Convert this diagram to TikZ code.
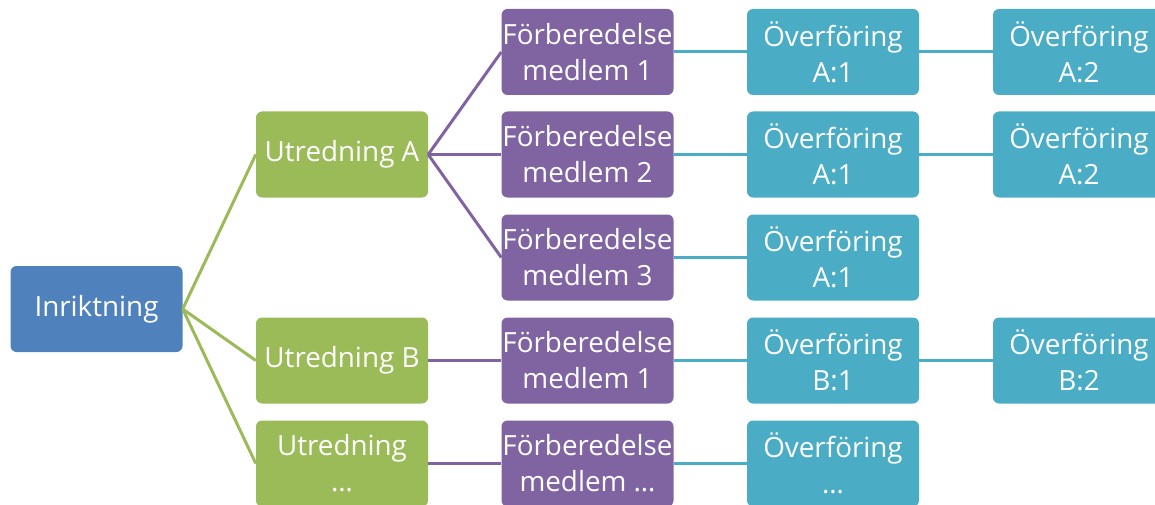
\documentclass[tikz,border=0pt]{standalone}
\usepackage{fontspec}
\setmainfont{Open Sans}
\definecolor{cblue}{HTML}{4F81BD}
\definecolor{cgreen}{HTML}{9BBB59}
\definecolor{cpurple}{HTML}{8064A2}
\definecolor{cteal}{HTML}{4BACC6}
\tikzset{
  box/.style={rounded corners=6pt, minimum width=172pt, minimum height=86pt, inner sep=0pt,
    text=white, align=center, font=\fontsize{27.8}{36}\selectfont},
  bluebox/.style={box, fill=cblue},
  greenbox/.style={box, fill=cgreen},
  purplebox/.style={box, fill=cpurple},
  tealbox/.style={box, fill=cteal},
  gline/.style={draw=cgreen, line width=3pt},
  pline/.style={draw=cpurple, line width=3pt},
  tline/.style={draw=cteal, line width=3pt},
}
\begin{document}
\begin{tikzpicture}[x=1pt,y=-1pt]
\useasboundingbox (0,0) rectangle (1155,505);
\node[bluebox] (inr) at (96.5,309) {Inriktning};
\node[greenbox] (uA) at (342,154.5) {Utredning A};
\node[greenbox] (uB) at (342,360.5) {Utredning B};
\node[greenbox] (uD) at (342,463.5) {Utredning\\…};
\node[purplebox] (f1) at (587.5,52) {Förberedelse\\medlem 1};
\node[purplebox] (f2) at (587.5,154.5) {Förberedelse\\medlem 2};
\node[purplebox] (f3) at (587.5,257.5) {Förberedelse\\medlem 3};
\node[purplebox] (f4) at (587.5,360.5) {Förberedelse\\medlem 1};
\node[purplebox] (f5) at (587.5,463.5) {Förberedelse\\medlem …};
\node[tealbox] (o1) at (833,52) {Överföring\\A:1};
\node[tealbox] (o2) at (833,154.5) {Överföring\\A:1};
\node[tealbox] (o3) at (833,257.5) {Överföring\\A:1};
\node[tealbox] (o4) at (833,360.5) {Överföring\\B:1};
\node[tealbox] (o5) at (833,463.5) {Överföring\\…};
\node[tealbox] (p1) at (1079,52) {Överföring\\A:2};
\node[tealbox] (p2) at (1079,154.5) {Överföring\\A:2};
\node[tealbox] (p4) at (1079,360.5) {Överföring\\B:2};
\draw[gline] (inr.east) -- (uA.west);
\draw[gline] (inr.east) -- (uB.west);
\draw[gline] (inr.east) -- (uD.west);
\draw[pline] (uA.east) -- (f1.west);
\draw[pline] (uA.east) -- (f2.west);
\draw[pline] (uA.east) -- (f3.west);
\draw[pline] (uB.east) -- (f4.west);
\draw[pline] (uD.east) -- (f5.west);
\draw[tline] (f1.east) -- (o1.west);
\draw[tline] (f2.east) -- (o2.west);
\draw[tline] (f3.east) -- (o3.west);
\draw[tline] (f4.east) -- (o4.west);
\draw[tline] (f5.east) -- (o5.west);
\draw[tline] (o1.east) -- (p1.west);
\draw[tline] (o2.east) -- (p2.west);
\draw[tline] (o4.east) -- (p4.west);
\end{tikzpicture}
\end{document}
